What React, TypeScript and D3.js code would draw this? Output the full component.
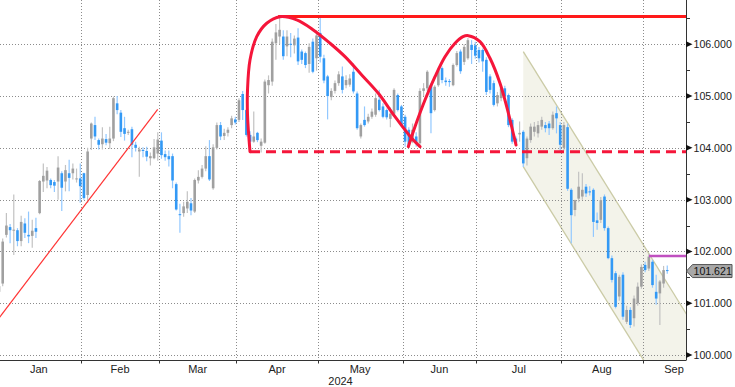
import React from 'react';
import * as d3 from 'd3';

// ---------- DATA ----------
const open = [101.22,101.38,102.32,102.47,102.40,102.41,102.20,102.54,102.32,102.30,102.45,102.74,103.35,103.37,103.38,103.34,103.35,103.51,103.35,103.51,103.51,103.40,103.41,
103.51,103.09,104.18,104.44,104.15,104.07,104.17,104.09,104.18,104.86,104.68,104.38,104.29,104.36,104.06,103.93,103.96,103.94,103.80,103.80,103.89,
104.14,103.88,103.84,103.84,103.30,102.72,102.74,102.83,102.93,102.77,103.37,103.44,103.60,103.84,103.22,104.00,104.44,104.23,104.29,104.44,104.55,
104.54,105.04,104.73,104.25,104.12,104.29,104.04,104.10,105.21,105.28,106.02,106.15,106.15,105.96,106.01,105.98,106.13,105.86,105.83,105.62,106.05,105.73,
106.22,105.73,105.38,104.98,105.10,105.25,105.38,105.21,105.22,105.47,105.05,104.22,104.54,104.51,104.60,104.64,104.93,104.80,104.73,104.56,104.66,105.02,104.80,
104.60,104.35,104.12,104.22,104.09,105.10,105.15,105.21,104.73,105.21,105.54,105.30,105.29,105.21,105.60,105.86,105.66,105.73,105.99,105.98,
105.89,105.89,105.70,105.38,105.25,104.86,104.96,105.15,105.02,104.54,104.18,104.26,104.31,103.80,104.15,104.31,104.28,104.41,104.44,104.47,104.38,104.67,104.44,
104.00,104.40,103.19,102.80,103.02,103.06,103.25,103.16,103.19,102.60,102.61,103.06,102.45,101.87,101.58,101.13,101.55,100.64,100.87,100.71,101.00,101.32,
101.74,101.67,101.80,101.22,101.19,101.38,101.64];
const high = [101.40,102.25,102.74,102.53,103.10,102.45,102.69,102.64,102.77,102.61,102.65,103.38,103.70,103.63,103.41,103.38,103.84,103.55,103.67,103.77,103.70,103.60,103.70,
103.52,104.00,104.49,104.60,104.18,104.40,104.27,104.41,104.99,105.00,104.73,104.60,104.35,104.41,104.12,104.02,104.01,104.02,103.91,104.17,104.30,
104.30,103.95,103.95,103.89,103.33,102.92,102.96,103.16,103.03,103.41,103.57,103.67,104.03,104.15,104.07,104.49,104.50,104.37,104.40,104.62,104.60,
104.96,105.10,104.75,104.32,104.70,104.31,104.18,105.32,105.40,106.11,106.39,106.54,106.27,106.27,106.22,106.17,106.31,105.90,105.86,106.02,106.11,106.27,
106.51,105.80,105.41,105.15,105.30,105.48,105.57,105.40,105.42,105.63,105.09,104.47,104.80,104.66,104.76,105.05,105.12,104.86,104.76,104.78,105.15,105.05,104.83,
104.64,104.40,104.47,104.30,105.15,105.25,105.50,105.25,105.21,105.55,105.57,105.36,105.33,105.63,105.87,105.90,106.00,106.12,106.08,106.05,
105.95,105.92,105.75,105.42,105.30,105.08,105.20,105.20,105.05,104.57,104.22,104.51,104.34,104.22,104.47,104.50,104.52,104.60,104.50,104.52,104.70,104.80,104.50,
104.50,104.47,103.22,103.00,103.54,103.51,103.30,103.26,103.22,102.75,103.05,103.10,102.48,101.92,101.62,101.55,101.60,100.95,100.92,101.15,101.40,101.75,
101.80,101.96,101.84,101.55,101.45,101.72,101.73];
const low = [101.18,101.33,102.27,102.16,101.93,102.10,102.10,102.26,102.16,102.07,102.26,102.72,103.15,103.22,103.22,103.15,103.00,102.78,103.16,103.16,103.39,103.33,102.94,
103.00,102.94,103.96,104.15,103.97,103.97,104.05,103.98,104.13,104.65,104.21,104.14,104.25,103.82,103.93,103.44,103.82,103.74,103.66,103.78,103.75,
103.79,103.75,103.64,103.22,102.79,102.36,102.67,102.74,102.70,102.74,103.31,103.41,103.55,103.36,103.19,103.97,104.15,104.15,104.22,104.38,104.45,
104.50,104.54,104.22,104.03,104.10,104.11,103.91,104.08,105.05,105.20,105.70,106.00,105.70,105.77,105.75,105.82,105.60,105.62,105.54,105.45,105.44,105.49,
105.65,105.25,104.55,104.92,105.05,105.20,105.05,105.15,105.18,105.05,104.35,104.18,104.41,104.47,104.56,104.60,104.70,104.57,104.55,104.40,104.63,104.70,104.41,
104.02,104.00,104.09,104.02,104.05,105.00,105.10,104.28,104.70,105.18,105.25,105.20,105.18,105.19,105.57,105.43,105.60,105.70,105.62,105.72,
105.65,105.47,105.02,105.05,104.80,104.80,104.90,104.95,104.40,104.08,104.05,104.12,103.63,103.66,104.10,104.22,104.20,104.35,104.30,104.25,104.35,104.28,103.90,
103.95,103.17,102.16,102.68,102.95,103.00,103.05,103.08,102.28,102.42,102.55,102.40,101.85,101.40,100.90,101.05,100.68,100.60,100.52,100.55,100.95,101.28,
101.60,101.62,101.30,100.97,100.58,101.30,101.57];
const close = [101.33,102.19,102.50,102.41,102.42,102.20,102.57,102.36,102.29,102.40,102.38,103.36,103.46,103.56,103.28,103.27,103.62,103.23,103.57,103.42,103.60,103.41,103.26,
103.03,103.93,104.47,104.22,104.06,104.18,104.10,104.18,104.96,104.73,104.31,104.27,104.31,104.06,104.00,103.97,103.94,103.83,103.84,104.01,104.16,
103.86,103.82,103.78,103.37,102.81,102.70,102.87,102.96,102.79,103.38,103.44,103.60,103.84,103.39,104.01,104.44,104.22,104.29,104.35,104.57,104.49,
104.92,104.73,104.25,104.12,104.22,104.15,104.12,105.28,105.31,106.05,106.23,106.28,105.77,106.15,105.99,106.11,105.67,105.70,105.60,105.95,105.47,106.17,
105.76,105.30,105.00,105.10,105.25,105.42,105.12,105.31,105.34,105.09,104.38,104.44,104.44,104.60,104.70,104.96,104.73,104.60,104.59,104.66,105.12,104.73,104.44,
104.12,104.06,104.35,104.09,105.10,105.15,105.47,104.67,105.18,105.50,105.31,105.27,105.27,105.60,105.83,105.48,105.95,106.08,105.89,105.78,
105.73,105.67,105.08,105.12,104.83,105.02,105.15,104.99,104.44,104.12,104.09,104.29,103.70,104.18,104.41,104.41,104.44,104.54,104.38,104.38,104.64,104.57,104.06,
104.44,103.21,102.70,102.99,103.25,103.19,103.12,103.14,102.57,102.55,102.99,102.45,101.87,101.45,100.93,101.51,100.74,100.87,100.58,101.09,101.32,101.70,
101.64,101.90,101.35,101.09,101.42,101.64,101.621];

// month boundaries (index of each month's last trading day) and labels
const monthEnds = [-1, 22, 43, 64, 86, 109, 129, 152, 174, 195];
const monthNames = ['Jan', 'Feb', 'Mar', 'Apr', 'May', 'Jun', 'Jul', 'Aug', 'Sep'];
const yearLabel = '2024';
const priceTicks = [100, 101, 102, 103, 104, 105, 106];
const minorTicks = [100.5, 101.5, 102.5, 103.5, 104.5, 105.5, 106.5];
const lastPrice = 101.621;

// annotations in (day index, price) space
const trendLine: [number, number][] = [[0, 100.714], [42.98, 104.745]];
const resistance: [number, number][] = [[75.6, 106.537], [190, 106.537]];
const support: [number, number][] = [[67.98, 103.926], [190, 103.926]];
const purpleLevel: [number, number][] = [[176.05, 101.912], [190, 101.912]];
const arcOne: [number, number][] = [
  [67.98, 103.926], [67.31, 104.635], [67.31, 105.118], [67.98, 105.697], [69.8, 106.147],
  [72.51, 106.406], [76.11, 106.533], [80.63, 106.47], [85.13, 106.277], [89.65, 106.02],
  [93.71, 105.761], [98.24, 105.408], [102.74, 105.054], [107.26, 104.602], [111.78, 104.185], [114.03, 104.023],
];
const arcTwo: [number, number][] = [
  [110.86, 104.023], [112.67, 104.409], [115.38, 104.925], [118.09, 105.375], [120.8, 105.761],
  [123.51, 106.02], [125.67, 106.147], [127.11, 106.167], [130.28, 106.051], [132.99, 105.73],
  [135.7, 105.247], [137.51, 104.795], [138.86, 104.409], [140.03, 104.056],
];
const channelStart = 142.0;
const channelEnd = 192;
const channelUpper0 = 105.857;
const channelLower0 = 103.637;
const channelSlope = -0.11464;

// ---------- CHART ----------
const W = 735;
const H = 387;
const PR = 686; // plot right
const PB = 360; // plot bottom

export default function App() {
  const x = d3.scaleLinear().domain([0, 186.1]).range([-0.99, 686.09]);
  const y = d3.scaleLinear().domain([100, 106]).range([355, 44.3]);
  const n = close.length;

  const line = d3.line<[number, number]>().x(d => x(d[0])).y(d => y(d[1]));
  const curve = d3.line<[number, number]>().x(d => x(d[0])).y(d => y(d[1])).curve(d3.curveCatmullRom.alpha(0.5));

  const chUp = (i: number) => channelUpper0 + (i - channelStart) * channelSlope;
  const chLo = (i: number) => channelLower0 + (i - channelStart) * channelSlope;
  const channelPoly: [number, number][] = [
    [channelStart, chUp(channelStart)], [channelEnd, chUp(channelEnd)],
    [channelEnd, chLo(channelEnd)], [channelStart, chLo(channelStart)],
  ];

  const gridX = monthEnds.slice(1, -1).map(i => Math.round(x(i + 0.3)) + 0.5);
  const font = '"Liberation Sans", Arial, sans-serif';

  const py = y(lastPrice);

  return (
    <svg width={W} height={H} style={{ position: 'absolute', left: 0, top: 0, display: 'block', background: '#fff' }}>
      <defs>
        <clipPath id="plot"><rect x={0} y={0} width={PR} height={PB} /></clipPath>
      </defs>
      <rect x={0} y={0} width={W} height={H} fill="#fff" />
      <g clipPath="url(#plot)">
        {/* channel */}
        <path d={line(channelPoly) + 'Z'} fill="#f3f3ea" stroke="none" />
        <path d={line([[channelStart, chUp(channelStart)], [channelEnd, chUp(channelEnd)]]) || ''} stroke="#cbcba6" strokeWidth={1.3} fill="none" />
        <path d={line([[channelStart, chLo(channelStart)], [channelEnd, chLo(channelEnd)]]) || ''} stroke="#cbcba6" strokeWidth={1.3} fill="none" />
        {/* grid */}
        {priceTicks.map(v => (
          <line key={'h' + v} x1={0} x2={PR} y1={Math.round(y(v)) + 0.5} y2={Math.round(y(v)) + 0.5}
            stroke="#8c8c8c" strokeDasharray="1,2" strokeWidth={1} />
        ))}
        {gridX.map((gx, k) => (
          <line key={'v' + k} x1={gx} x2={gx} y1={0} y2={PB} stroke="#8c8c8c" strokeDasharray="1,2" strokeWidth={1} />
        ))}
        {/* candles */}
        {d3.range(n).map(i => {
          const up = close[i] >= open[i];
          const cx = x(i);
          const top = y(Math.max(open[i], close[i]));
          const bot = y(Math.min(open[i], close[i]));
          return (
            <g key={i}>
              <line x1={cx} x2={cx} y1={y(high[i])} y2={y(low[i])} stroke={up ? '#c2c2c2' : '#92c8ff'} strokeWidth={1.2} />
              <rect x={cx - 1.3} y={top} width={2.6} height={Math.max(1, bot - top)} fill={up ? '#a0a0a0' : '#3399f5'} />
            </g>
          );
        })}
        {/* annotations */}
        <path d={line(trendLine) || ''} stroke="#ff3333" strokeWidth={1.2} fill="none" />
        <path d={line(support) || ''} stroke="#f5163a" strokeWidth={3} strokeDasharray="10,6" fill="none" />
        <path d={line(resistance) || ''} stroke="#ff1a1a" strokeWidth={3} fill="none" />
        <path d={curve(arcOne) || ''} stroke="#f5163a" strokeWidth={3} fill="none" strokeLinecap="round" />
        <path d={curve(arcTwo) || ''} stroke="#f5163a" strokeWidth={3} fill="none" strokeLinecap="round" />
        <path d={line(purpleLevel) || ''} stroke="#c050c0" strokeWidth={2.5} fill="none" />
      </g>
      {/* axes */}
      <line x1={PR + 0.5} x2={PR + 0.5} y1={0} y2={PB} stroke="#333" strokeWidth={1} />
      <line x1={0} x2={PR + 0.5} y1={PB + 0.5} y2={PB + 0.5} stroke="#333" strokeWidth={1.2} />
      {gridX.map((gx, k) => (
        <line key={'bt' + k} x1={gx} x2={gx} y1={PB} y2={PB + 3.5} stroke="#333" strokeWidth={1} />
      ))}
      {minorTicks.map(v => (
        <line key={'mt' + v} x1={PR} x2={PR + 4} y1={Math.round(y(v)) + 0.5} y2={Math.round(y(v)) + 0.5} stroke="#333" strokeWidth={1} />
      ))}
      {priceTicks.map(v => {
        const ty = y(v);
        return (
          <g key={'pt' + v}>
            <path d={`M${PR},${ty - 3}L${PR + 6.5},${ty}L${PR},${ty + 3}Z`} fill="#111" />
            <text x={693.5} y={ty + 4} fontFamily={font} fontSize={10.6} fill="#222">{v.toFixed(3)}</text>
          </g>
        );
      })}
      {/* last price box */}
      <path d={`M${PR + 0.5},${py}L${PR + 6.5},${py - 6.5}L${732},${py - 6.5}L${732},${py + 6.5}L${PR + 6.5},${py + 6.5}Z`}
        fill="#a8a8a8" stroke="#555" strokeWidth={1} />
      <text x={693.5} y={py + 4} fontFamily={font} fontSize={10.6} fill="#111">{lastPrice.toFixed(3)}</text>
      {/* month labels */}
      {monthNames.map((m, k) => {
        const a = x(monthEnds[k] + 0.3);
        const b = x(monthEnds[k + 1] + 0.3);
        const cx = Math.min((a + b) / 2, 674);
        return (
          <text key={m} x={cx} y={372.5} textAnchor="middle" fontFamily={font} fontSize={11} fill="#222">{m}</text>
        );
      })}
      <text x={x((n - 1) / 2 + 2)} y={385} textAnchor="middle" fontFamily={font} fontSize={11} fill="#222">{yearLabel}</text>
    </svg>
  );
}
